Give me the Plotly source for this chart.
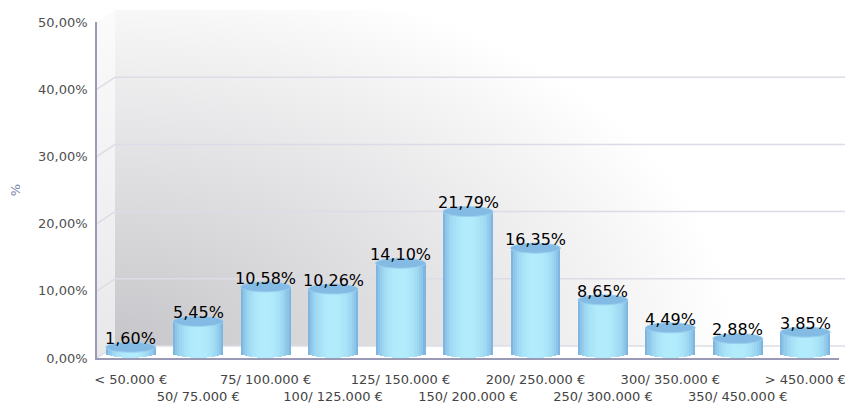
import base64
import math
import plotly.graph_objects as go

# ---------------- data ----------------
categories = ["< 50.000 €", "50/ 75.000 €", "75/ 100.000 €", "100/ 125.000 €",
              "125/ 150.000 €", "150/ 200.000 €", "200/ 250.000 €", "250/ 300.000 €",
              "300/ 350.000 €", "350/ 450.000 €", "> 450.000 €"]
values = [1.60, 5.45, 10.58, 10.26, 14.10, 21.79, 16.35, 8.65, 4.49, 2.88, 3.85]
y_tick_vals = [0, 10, 20, 30, 40, 50]
y_tick_text = ["0,00%", "10,00%", "20,00%", "30,00%", "40,00%", "50,00%"]
y_title = "%"

# ---------------- geometry / style ----------------
OFF = 8                    # page body margin
W, H = 853 - OFF, 403 - OFF
ML, MR, MT, MB = 97 - OFF, 14, 22 - OFF, 45
plot_w = W - ML - MR
plot_h = H - MT - MB
YMAX = 50
px_per_unit = plot_h / YMAX
DX, DY = 18, 12            # 3-D depth offset in px
dy_u = DY / px_per_unit
dx_p = DX / plot_w

n = len(categories)
xi = list(range(n))
bar_w = 0.74
half = bar_w / 2
ell_b = 5 / px_per_unit      # ellipse semi-minor in data units
bottom_c = ell_b + 0.05      # bottom ellipse centre

edge_rgb = (104, 160, 214)
mid_rgb = (178, 236, 252)


def mix(t):
    r = [int(round(edge_rgb[i] + (mid_rgb[i] - edge_rgb[i]) * t)) for i in range(3)]
    return "rgb(%d,%d,%d)" % tuple(r)


# ---------------- background (3-D walls) as SVG image ----------------
sw = W - ML
sh = (H - MB) - (MT - DY)
cy = sh - DY
svg = f'''<svg xmlns="http://www.w3.org/2000/svg" width="{sw}" height="{sh}" viewBox="0 0 {sw} {sh}" preserveAspectRatio="none">
<defs>
<radialGradient id="g" gradientUnits="userSpaceOnUse" cx="{DX}" cy="{cy}" r="620" fx="{DX}" fy="{cy}"
 gradientTransform="translate({DX},{cy}) scale(1,0.62) translate({-DX},{-cy})">
<stop offset="0" stop-color="#c6c6ca"/>
<stop offset="0.5" stop-color="#e2e2e4"/>
<stop offset="0.8" stop-color="#f3f3f4"/>
<stop offset="1" stop-color="#ffffff"/>
</radialGradient>
<linearGradient id="s" x1="0" y1="1" x2="0" y2="0">
<stop offset="0" stop-color="#e8e8eb"/>
<stop offset="1" stop-color="#fbfbfc"/>
</linearGradient>
</defs>
<rect x="0" y="0" width="{sw}" height="{sh}" fill="#ffffff"/>
<rect x="{DX}" y="0" width="{sw-DX}" height="{sh-DY}" fill="url(#g)"/>
<polygon points="0,{DY} {DX},0 {DX},{sh-DY} 0,{sh}" fill="url(#s)"/>
<polygon points="0,{sh} {DX},{sh-DY} {sw},{sh-DY} {plot_w},{sh}" fill="#ffffff"/>
</svg>'''
svg_uri = "data:image/svg+xml;base64," + base64.b64encode(svg.encode()).decode()

fig = go.Figure()

# ---------------- cylinder bodies (layered for shading) ----------------
layers = 12
for k in range(layers):
    r_out = 1 - k / layers
    r_in = 1 - (k + 1) / layers
    r_mid = (r_out + r_in) / 2
    shade = math.sqrt(max(0.0, 1 - r_mid ** 2))
    base_k = bottom_c - ell_b * math.sqrt(max(0.0, 1 - r_in ** 2))
    base_k = max(base_k, 0)
    fig.add_trace(go.Bar(
        x=xi, y=[v - base_k for v in values], base=[base_k] * n,
        width=bar_w * r_out, marker=dict(color=mix(shade), line=dict(width=0)),
        hoverinfo="skip", showlegend=False))

# ---------------- shapes: back-wall grid and cylinder tops ----------------
shapes = []
for t in y_tick_vals:
    shapes.append(dict(type="line", xref="paper", yref="y", x0=0, y0=t, x1=dx_p, y1=t + dy_u,
                       line=dict(color="#dcdce6", width=1.5), layer="below"))
    shapes.append(dict(type="line", xref="paper", yref="y", x0=dx_p, y0=t + dy_u, x1=sw / plot_w, y1=t + dy_u,
                       line=dict(color="#dcdce6", width=1.5), layer="below"))
for i, v in zip(xi, values):
    shapes.append(dict(type="circle", xref="x", yref="y", x0=i - half, x1=i + half,
                       y0=v - ell_b, y1=v + ell_b, fillcolor="#84bbe4",
                       line=dict(color="#9ccff0", width=1), layer="above"))

annotations = []
for i, v in zip(xi, values):
    annotations.append(dict(x=i, y=v + 1.3, xref="x", yref="y", showarrow=False,
                            text=("%.2f%%" % v).replace(".", ","),
                            font=dict(family="DejaVu Sans", size=16, color="#000000")))

ticktext_x = [c if j % 2 == 0 else "<br>" + c for j, c in enumerate(categories)]

fig.update_layout(
    width=W, height=H,
    margin=dict(l=ML, r=MR, t=MT, b=MB, pad=0),
    paper_bgcolor="#ffffff", plot_bgcolor="rgba(0,0,0,0)",
    barmode="overlay", bargap=0,
    shapes=shapes, annotations=annotations,
    images=[dict(source=svg_uri, xref="paper", yref="paper", x=0, y=(plot_h + DY) / plot_h,
                 sizex=sw / plot_w, sizey=sh / plot_h, xanchor="left", yanchor="top",
                 sizing="stretch", layer="below")],
    xaxis=dict(range=[-0.5, n - 0.5], tickmode="array", tickvals=xi, ticktext=ticktext_x,
               tickangle=0, automargin=False,
               showgrid=False, zeroline=False, showline=True, linecolor="#9a9ab4", linewidth=1.5,
               ticks="", ticklabelstandoff=9,
               tickfont=dict(family="DejaVu Sans", size=13, color="#444444")),
    yaxis=dict(range=[0, YMAX], tickmode="array", tickvals=y_tick_vals, ticktext=y_tick_text,
               automargin=False,
               showgrid=False, zeroline=False, showline=True, linecolor="#9a9ab4", linewidth=1.5,
               ticks="", ticklabelstandoff=5,
               tickfont=dict(family="DejaVu Sans", size=13, color="#505050"),
               title=dict(text=y_title, standoff=16,
                          font=dict(family="DejaVu Sans", size=13, color="#7a86ab"))),
    showlegend=False,
)

fig.write_html("out.html")
